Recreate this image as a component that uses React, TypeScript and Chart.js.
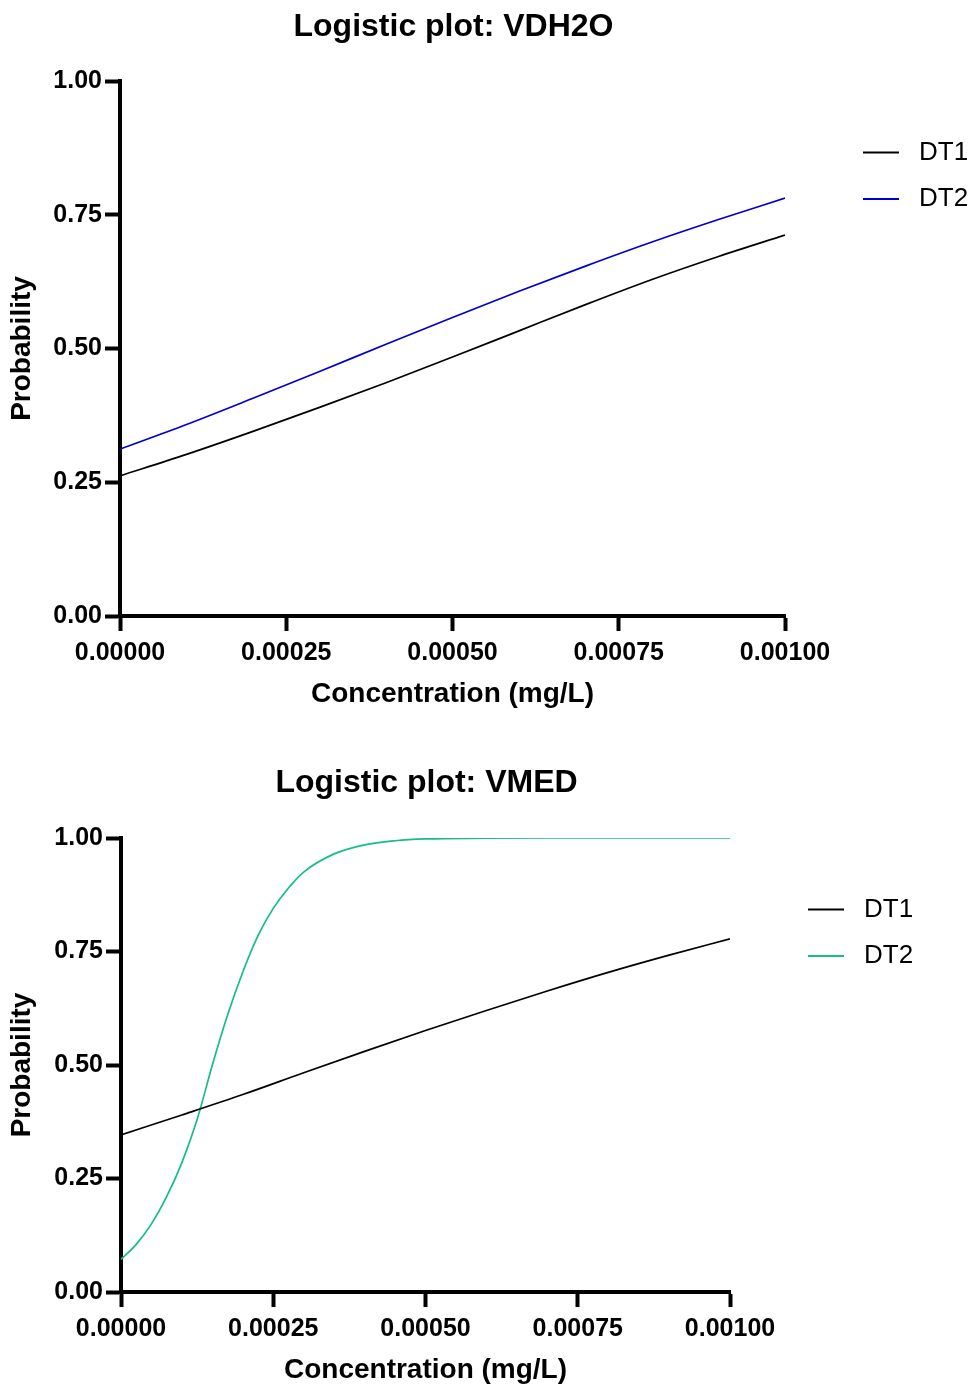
import React, { useEffect, useRef } from 'react';
import { Chart, registerables } from 'chart.js';

Chart.register(...registerables);

const FONT = '"Liberation Sans", Arial, Helvetica, sans-serif';

// ---- Data ----
const xTickValues = [0, 0.00025, 0.0005, 0.00075, 0.001];
const xTickLabels = ['0.00000', '0.00025', '0.00050', '0.00075', '0.00100'];
const yTickValues = [0, 0.25, 0.5, 0.75, 1];
const yTickLabels = ['0.00', '0.25', '0.50', '0.75', '1.00'];

const seriesLabels = ['DT1', 'DT2'];

const vdh2oTitle = 'Logistic plot: VDH2O';
const vdh2oConc = [0, 0.0001, 0.0002, 0.0003, 0.0004, 0.0005, 0.0006, 0.0007, 0.0008, 0.0009, 0.001];
const vdh2oDT1 = [0.262, 0.302, 0.345, 0.39, 0.436, 0.484, 0.533, 0.582, 0.629, 0.672, 0.712];
const vdh2oDT2 = [0.312, 0.358, 0.407, 0.457, 0.508, 0.558, 0.607, 0.654, 0.699, 0.741, 0.781];

const vmedTitle = 'Logistic plot: VMED';
const vmedConcDT1 = [0, 0.0001, 0.0002, 0.0003, 0.0004, 0.0005, 0.0006, 0.0007, 0.0008, 0.0009, 0.001];
const vmedDT1 = [0.346, 0.39, 0.435, 0.483, 0.53, 0.576, 0.62, 0.663, 0.704, 0.742, 0.778];
const vmedConcDT2 = [0, 0.000025, 0.00005, 0.000075, 0.0001, 0.000125, 0.00015, 0.000175, 0.0002, 0.000225, 0.00025, 0.000275, 0.0003, 0.00035, 0.0004, 0.00045, 0.0005, 0.0006, 0.0007, 0.0008, 0.0009, 0.001];
const vmedDT2 = [0.072, 0.105, 0.15, 0.21, 0.285, 0.38, 0.5, 0.61, 0.705, 0.785, 0.845, 0.89, 0.925, 0.965, 0.985, 0.994, 0.998, 0.9995, 1, 1, 1, 1];

const xAxisTitle = 'Concentration (mg/L)';
const yAxisTitle = 'Probability';

type ChartParams = {
  title: string;
  titleY: number;
  dt1Conc: number[];
  dt1: number[];
  dt2Conc: number[];
  dt2: number[];
  dt2Color: string;
  padTop: number;
  padRight: number;
  yAxisWidth: number;
  xAxisHeight: number;
  xTitlePad: number;
};

function overlayPlugin(title: string, titleY: number) {
  return {
    id: 'overlay',
    afterDraw(chart: any) {
      const { ctx, chartArea } = chart;
      ctx.save();
      ctx.fillStyle = '#000';
      ctx.font = `bold 32px ${FONT}`;
      ctx.textAlign = 'center';
      ctx.textBaseline = 'middle';
      ctx.fillText(title, (chartArea.left + chartArea.right) / 2 + 1, titleY);
      chart.data.datasets.forEach((ds: any, i: number) => {
        const y = chartArea.top + 71.5 + i * 46.5;
        ctx.strokeStyle = ds.borderColor;
        ctx.lineWidth = 2;
        ctx.beginPath();
        ctx.moveTo(chartArea.right + 78, y);
        ctx.lineTo(chartArea.right + 114, y);
        ctx.stroke();
        ctx.fillStyle = '#000';
        ctx.font = `26px ${FONT}`;
        ctx.textAlign = 'left';
        ctx.textBaseline = 'middle';
        ctx.fillText(ds.label, chartArea.right + 134, y);
      });
      ctx.restore();
    },
  };
}

function makeConfig(p: ChartParams): any {
  const gridOpts = {
    display: true,
    drawOnChartArea: false,
    drawTicks: true,
    tickLength: 15,
    tickWidth: 4,
    tickColor: '#000',
  };
  const borderOpts = { display: true, width: 4, color: '#000' };
  return {
    type: 'line',
    data: {
      datasets: [
        {
          label: seriesLabels[0],
          data: p.dt1Conc.map((x, i) => ({ x, y: p.dt1[i] })),
          borderColor: '#000000',
          borderWidth: 1.7,
          pointRadius: 0,
          fill: false,
          cubicInterpolationMode: 'monotone',
        },
        {
          label: seriesLabels[1],
          data: p.dt2Conc.map((x, i) => ({ x, y: p.dt2[i] })),
          borderColor: p.dt2Color,
          borderWidth: 1.7,
          pointRadius: 0,
          fill: false,
          cubicInterpolationMode: 'monotone',
        },
      ],
    },
    options: {
      responsive: false,
      animation: false,
      events: [],
      layout: { padding: { top: p.padTop, right: p.padRight, left: 0, bottom: 0 } },
      plugins: {
        legend: { display: false },
        title: { display: false },
        tooltip: { enabled: false },
      },
      scales: {
        x: {
          type: 'linear',
          min: 0,
          max: 0.001,
          afterBuildTicks: (scale: any) => {
            scale.ticks = xTickValues.map((v) => ({ value: v }));
          },
          afterFit: (scale: any) => {
            scale.height = p.xAxisHeight;
          },
          border: borderOpts,
          grid: gridOpts,
          ticks: {
            color: '#000',
            font: { family: FONT, size: 25, weight: 'bold' },
            padding: 7,
            maxRotation: 0,
            minRotation: 0,
            autoSkip: false,
            callback: (_v: any, i: number) => xTickLabels[i],
          },
          title: {
            display: true,
            text: xAxisTitle,
            color: '#000',
            font: { family: FONT, size: 28, weight: 'bold' },
            padding: { top: 0, bottom: p.xTitlePad },
          },
        },
        y: {
          type: 'linear',
          min: 0,
          max: 1,
          afterBuildTicks: (scale: any) => {
            scale.ticks = yTickValues.map((v) => ({ value: v }));
          },
          afterFit: (scale: any) => {
            scale.width = p.yAxisWidth;
          },
          border: borderOpts,
          grid: gridOpts,
          ticks: {
            color: '#000',
            font: { family: FONT, size: 25, weight: 'bold' },
            padding: 3,
            autoSkip: false,
            callback: (_v: any, i: number) => yTickLabels[i],
          },
          title: {
            display: true,
            text: yAxisTitle,
            color: '#000',
            font: { family: FONT, size: 28, weight: 'bold' },
            padding: { top: 5, bottom: 0 },
          },
        },
      },
    },
    plugins: [overlayPlugin(p.title, p.titleY)],
  };
}

function ChartCanvas({ params, width, height, top }: { params: ChartParams; width: number; height: number; top: number }) {
  const ref = useRef<HTMLCanvasElement | null>(null);
  useEffect(() => {
    if (!ref.current) return;
    const chart = new Chart(ref.current, makeConfig(params));
    return () => chart.destroy();
  }, []);
  return (
    <canvas
      ref={ref}
      width={width}
      height={height}
      style={{ position: 'absolute', left: 0, top, width, height, display: 'block' }}
    />
  );
}

export default function App() {
  const topParams: ChartParams = {
    title: vdh2oTitle,
    titleY: 27,
    dt1Conc: vdh2oConc,
    dt1: vdh2oDT1,
    dt2Conc: vdh2oConc,
    dt2: vdh2oDT2,
    dt2Color: '#0000CC',
    padTop: 81,
    padRight: 191,
    yAxisWidth: 120,
    xAxisHeight: 104,
    xTitlePad: 9,
  };
  const bottomParams: ChartParams = {
    title: vmedTitle,
    titleY: 63,
    dt1Conc: vmedConcDT1,
    dt1: vmedDT1,
    dt2Conc: vmedConcDT2,
    dt2: vmedDT2,
    dt2Color: '#14BE86',
    padTop: 118,
    padRight: 246,
    yAxisWidth: 121,
    xAxisHeight: 95,
    xTitlePad: 0,
  };
  return (
    <div style={{ position: 'absolute', left: 0, top: 0, width: 976, height: 1387, background: '#fff' }}>
      <ChartCanvas params={topParams} width={976} height={720} top={0} />
      <ChartCanvas params={bottomParams} width={976} height={667} top={720} />
    </div>
  );
}
